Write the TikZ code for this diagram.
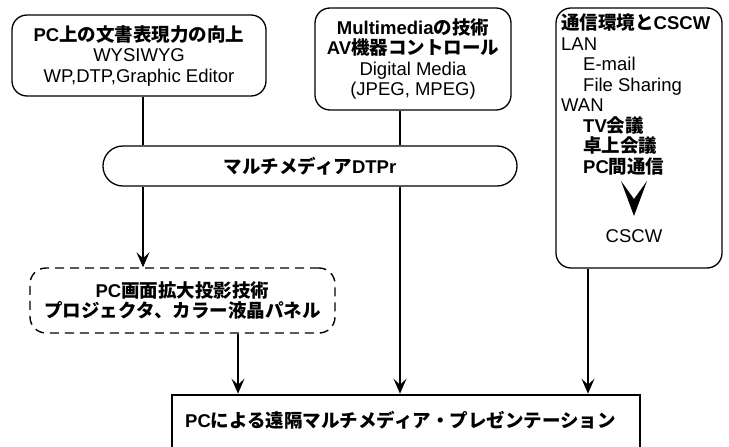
\documentclass[tikz,border=0pt]{standalone}
\usepackage{fontspec}
\setmainfont{Liberation Sans}
\newfontfamily\cjk{Noto Sans CJK JP}
\usetikzlibrary{arrows.meta}
\newcommand\J[1]{{\cjk\bfseries #1}}
\begin{document}
\begin{tikzpicture}[x=1pt,y=-1pt,
  font=\fontsize{18.5}{20.5}\selectfont,
  box/.style={draw, line width=1.3pt, rounded corners=15pt, inner sep=0pt, align=center},
  dbox/.style={draw, line width=1.4pt, dash pattern=on 9pt off 6pt, rounded corners=16pt, inner sep=0pt, align=center},
  barbox/.style={draw, line width=1.3pt, rounded corners=19.9pt, inner sep=0pt},
  presbox/.style={draw, line width=2.6pt, inner sep=0pt},
  conn/.style={line width=1.3pt},
  arr/.style={line width=1.3pt, -{Stealth[length=15pt,width=13pt,inset=6pt]}},
  txt/.style={inner sep=0pt, align=left}]
\useasboundingbox (0,0) rectangle (729,447);

% top boxes
\node[box, minimum width=254pt, minimum height=81pt] (b1) at (139,55.5)
  {{\bfseries PC}\J{上の文書表現力の向上}\\ WYSIWYG\\ WP,DTP,Graphic Editor};
\node[box, minimum width=196pt, minimum height=102pt] (b2) at (413,59)
  {{\bfseries Multimedia}\J{の技術}\\ {\bfseries AV}\J{機器コントロール}\\ Digital Media\\ (JPEG, MPEG)};
\node[box, minimum width=166pt, minimum height=260pt] (b3) at (639,138) {};
\node[txt, anchor=north west] (b3t) at (561,14)
  {\J{通信環境と}{\bfseries CSCW}\\
   LAN\\
   \hspace*{22pt}E-mail\\
   \hspace*{22pt}File Sharing\\
   WAN\\
   \hspace*{22pt}{\bfseries TV}\J{会議}\\
   \hspace*{22pt}\J{卓上会議}\\
   \hspace*{22pt}{\bfseries PC}\J{間通信}};
\fill (621,181) -- (634,199) -- (647,181) -- (634,216) -- cycle;
\node[inner sep=0pt] (cscw) at (634,236) {CSCW};

% bar
\node[barbox, minimum width=414pt, minimum height=40pt] (bar) at (310,166)
  {\J{マルチメディア}{\bfseries DTPr}};

% dashed box
\node[dbox, minimum width=305pt, minimum height=65pt] (dsh) at (182.5,300.5)
  {{\bfseries PC}\J{画面拡大投影技術}\\ \J{プロジェクタ、カラー液晶パネル}};

% bottom box
\node[presbox, minimum width=468pt, minimum height=60pt] (pres) at (406,425) {};
\node[inner sep=0pt, anchor=west] (prest) at (185,420)
  {{\bfseries PC}\J{による遠隔マルチメディア・プレゼンテーション}};

% connector x positions
\coordinate (xa) at (143,0);
\coordinate (xb) at (400,0);
\coordinate (xc) at (588,0);
\coordinate (xd) at (238,0);

\draw[conn] (b1.south -| xa) -- (bar.north -| xa);
\draw[arr] (bar.south -| xa) -- (dsh.north -| xa);
\draw[conn] (b2.south -| xb) -- (bar.north -| xb);
\draw[arr] (bar.south -| xb) -- (pres.north -| xb);
\draw[arr] (b3.south -| xc) -- (pres.north -| xc);
\draw[arr] (dsh.south -| xd) -- (pres.north -| xd);
\end{tikzpicture}
\end{document}
